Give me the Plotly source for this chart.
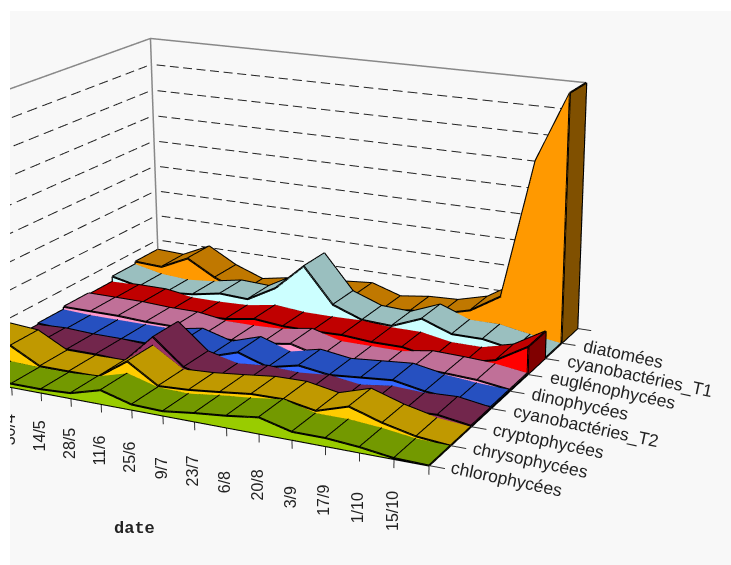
import numpy as np
import plotly.graph_objects as go

date_labels = ["30/4","14/5","28/5","11/6","25/6","9/7","23/7","6/8","20/8","3/9","17/9","1/10","15/10"]
series_names = ["chlorophycées","chrysophycées","cryptophycées","cyanobactéries_T2","dinophycées","euglénophycées","cyanobactéries_T1","diatomées"]
chloro = [.15,.15,.12,.12,.18,.48,.18,.15,.29,.4,.55,.27,.27,.18,.03,0]
chrys = [.8,.72,.16,.16,.17,.9,.22,.28,.4,.53,.55,.35,.7,.35,.1,0]
crypto = [.2,.25,.2,.2,.15,1.2,.3,.05,.15,.1,.2,.05,.2,.15,.2,.03]
t2 = [.25,.2,.2,.2,.2,.4,.1,.45,.1,.35,.2,.3,.4,.2,.1,.05]
dino = [.35,.35,.35,.3,.3,.15,.15,.2,.38,.1,.1,.1,.28,.25,.2,.05]
eugl = [.3,.33,.33,.18,.18,.22,.4,.3,.3,.33,.25,.25,.05,.05,.33,1.0]
t1 = [.5,.27,.2,.3,.5,.45,1.05,2.05,.75,.35,.3,.75,.35,.35,.15,0]
diat = [.6,.55,1.05,.45,.05,.25,.25,.45,.55,.2,.35,.4,.7,1.4,6.5,9]
all_series = [chloro,chrys,crypto,t2,dino,eugl,t1,diat]
front_cols = ["#99CC00","#FFCC00","#993366","#3366FF","#FF99CC","#FF0000","#CCFFFF","#FF9900"]
top_cols = ["#739900","#C09900","#72264C","#2650C0","#C07098","#C00000","#9ABFBF","#C07800"]
end_cols = ["#4D6600","#806600","#4D1A33","#1A3380","#804D66","#800000","#668080","#805000"]
grid_levels = [1,2,3,4,5,6,7,8]

xs = list(range(-2,14))
# fitted camera, expressed for the ranges (-2,13.5),(0,8),(-0.6,9)
R0=np.array([[-2,13.5],[0,8],[-0.6,9]],float)
R1=np.array([[-2.2,13.5],[-0.2,8.2],[-0.6,9.2]],float)
A0=np.array([1,0.744,0.534]);E0=np.array([1.688,-3.222,1.137]);C0=np.array([0.278,-0.198,0.0])
A1=A0*(R1[:,1]-R1[:,0])/(R0[:,1]-R0[:,0])
delta=(R1.mean(1)-R0.mean(1))/(R0[:,1]-R0[:,0])*A0
E1=E0-delta;C1=C0-delta

fig=go.Figure()
for k,v in enumerate(all_series):
    vx=[];vy=[];vz=[];I=[];J_=[];K=[];fc=[]
    def quad(a,b,c,d,col):
        n=len(vx)
        for q in (a,b,c,d):
            vx.append(q[0]);vy.append(q[1]);vz.append(q[2])
        I.extend([n,n]);J_.extend([n+1,n+2]);K.extend([n+2,n+3]);fc.extend([col,col])
    lx=[];ly=[];lz=[]
    def seg(pl):
        for q in pl:
            lx.append(q[0]);ly.append(q[1]);lz.append(q[2])
        lx.append(None);ly.append(None);lz.append(None)
    for i in range(len(xs)-1):
        x0,x1=xs[i],xs[i+1];a,b=v[i],v[i+1]
        quad((x0,k,a),(x1,k,b),(x1,k+1,b),(x0,k+1,a),top_cols[k])
        quad((x0,k,0),(x1,k,0),(x1,k,b),(x0,k,a),front_cols[k])
    e=xs[-1];z=v[-1]
    quad((e,k,0),(e,k+1,0),(e,k+1,z),(e,k,z),end_cols[k])
    seg([(x,k,h) for x,h in zip(xs,v)])
    seg([(x,k+1,h) for x,h in zip(xs,v)])
    seg([(x,k,0) for x in xs])
    for x,h in zip(xs,v):
        seg([(x,k,h),(x,k+1,h)])
    seg([(xs[0],k,0),(xs[0],k,v[0])])
    seg([(e,k,0),(e,k,z)]);seg([(e,k+1,0),(e,k+1,z)]);seg([(e,k,0),(e,k+1,0)])
    fig.add_trace(go.Mesh3d(x=vx,y=vy,z=vz,i=I,j=J_,k=K,facecolor=fc,flatshading=True,hoverinfo="skip",
        lighting=dict(ambient=1,diffuse=0,specular=0,roughness=1,fresnel=0)))
    fig.add_trace(go.Scatter3d(x=lx,y=ly,z=lz,mode="lines",line=dict(color="black",width=4),hoverinfo="skip"))
# dashed walls
gx=[];gy=[];gz=[]
for z in grid_levels:
    for s in np.arange(-1.8,13,0.5):
        gx+=[s,s+0.33,None];gy+=[8,8,None];gz+=[z,z,None]
    for s in np.arange(7.8,0,-0.55):
        gx+=[-2,-2,None];gy+=[s,s-0.36,None];gz+=[z,z,None]
fig.add_trace(go.Scatter3d(x=gx,y=gy,z=gz,mode="lines",line=dict(color="#222222",width=2),hoverinfo="skip"))
fig.add_trace(go.Scatter3d(x=[13,-2,-2,None,-2,-2],y=[8,8,0,None,8,8],z=[9,9,9,None,0,9],mode="lines",line=dict(color="#888888",width=3),hoverinfo="skip"))
# ticks
tx=[];ty=[];tz=[]
for i in range(len(date_labels)+1):
    tx+=[i,i,None];ty+=[0,0,None];tz+=[0,-0.3,None]
for k in range(9):
    tx+=[13,13.45,None];ty+=[k,k,None];tz+=[0,0,None]
fig.add_trace(go.Scatter3d(x=tx,y=ty,z=tz,mode="lines",line=dict(color="#333333",width=2),hoverinfo="skip"))
ann=[]
for i,t in enumerate(date_labels):
    ann.append(dict(x=i,y=0,z=0,text=t,showarrow=False,textangle=-90,xanchor="center",yanchor="bottom",xshift=-2,yshift=-(60+i*14/12),font=dict(family="Liberation Sans",size=16,color="#222222")))
for k,t in enumerate(series_names):
    ann.append(dict(x=13,y=k,z=0,text=t,showarrow=False,textangle=12,xanchor="left",yanchor="top",xshift=18,yshift=10,font=dict(family="Liberation Sans",size=17.5,color="#222222")))
fig.update_layout(width=731,height=565,margin=dict(l=0,r=0,t=0,b=0),paper_bgcolor="white",showlegend=False,
    scene=dict(dragmode="orbit",domain=dict(x=[10/731,1],y=[0,1-11/565]),bgcolor="#F8F8F8",
        xaxis=dict(visible=False,range=list(R1[0])),yaxis=dict(visible=False,range=list(R1[1])),zaxis=dict(visible=False,range=list(R1[2])),
        aspectmode="manual",aspectratio=dict(x=float(A1[0]),y=float(A1[1]),z=float(A1[2])),
        camera=dict(eye=dict(x=float(E1[0]),y=float(E1[1]),z=float(E1[2])),center=dict(x=float(C1[0]),y=float(C1[1]),z=float(C1[2])),up=dict(x=0.012,y=-0.028,z=1)),
        annotations=ann),
    annotations=[dict(xref="paper",yref="paper",x=134/731,y=1-528/565,xanchor="center",yanchor="middle",text="<b>date</b>",showarrow=False,font=dict(family="Liberation Mono",size=17,color="#222222"))])
post = """
document.body.style.margin='0';
var g=document.getElementById('{plot_id}');
var p=g._fullLayout.scene._scene.glplot;
p.fovy=2*Math.atan(Math.tan(Math.PI/8)/3.008);
p.redraw();
var c=document.createElement('div');
c.style.cssText='position:fixed;left:0;top:0;width:10px;height:100%;background:#fff;z-index:99;pointer-events:none';
document.body.appendChild(c);
"""
fig.write_html("out.html",post_script=post,config=dict(displayModeBar=False))
